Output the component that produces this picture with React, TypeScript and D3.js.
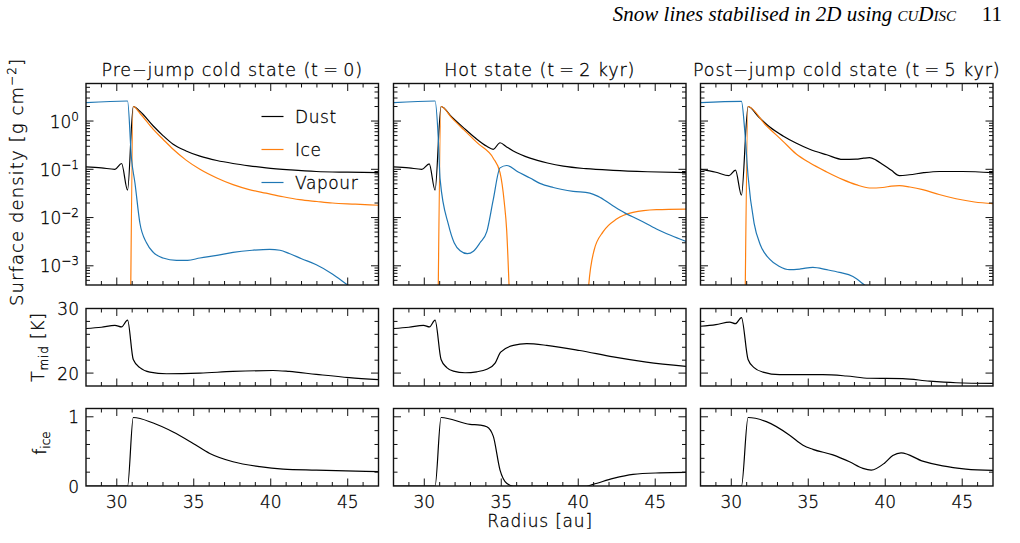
import React, { useEffect, useRef } from "react";
import * as d3 from "d3";

type Pt = [number, number];

// radius [au], surface density [g cm^-2]
const coldDust: Pt[] = [[28, 0.112], [29, 0.107], [29.88, 0.1], [30.31, 0.132], [30.7, 0.037], [31.07, 2.0], [31.5, 1.6], [32.37, 0.79], [33.0, 0.5], [33.66, 0.33], [34.5, 0.24], [35.4, 0.187], [36.5, 0.152], [37.55, 0.132], [38.6, 0.118], [39.7, 0.107], [41.3, 0.097], [42.96, 0.09], [45, 0.087], [47, 0.085]];
const coldIce: Pt[] = [[30.9, 2e-4], [31.07, 2.0], [31.5, 1.45], [32.37, 0.67], [33.0, 0.42], [33.66, 0.26], [34.5, 0.155], [35.4, 0.1], [36.5, 0.066], [37.55, 0.048], [38.6, 0.038], [39.7, 0.032], [40.8, 0.027], [41.88, 0.0235], [43, 0.0215], [44, 0.02], [45.5, 0.019], [47, 0.018]];
const coldVapour: Pt[] = [[28, 2.4], [30.7, 2.6], [30.96, 0.16], [31.18, 0.052], [31.5, 0.0077], [31.93, 0.003], [32.37, 0.0019], [33.0, 0.00145], [33.88, 0.00129], [34.6, 0.0013], [35.4, 0.00145], [36.5, 0.00165], [37.55, 0.0019], [38.8, 0.0021], [39.93, 0.0022], [40.6, 0.0021], [41.2, 0.0018], [42.0, 0.0014], [42.96, 0.00105], [44, 0.00068], [45, 0.0004], [46, 0.00024], [47, 0.00014]];

const hotDust: Pt[] = [[28, 0.112], [29, 0.107], [29.84, 0.1], [30.32, 0.13], [30.7, 0.037], [31.09, 2.0], [31.8, 1.2], [32.54, 0.73], [33.3, 0.45], [34.06, 0.3], [34.48, 0.26], [34.92, 0.355], [35.35, 0.29], [35.78, 0.24], [36.87, 0.17], [38, 0.135], [39.03, 0.116], [40.5, 0.103], [42.27, 0.095], [44.5, 0.089], [47, 0.085]];
const hotIce: Pt[] = [[30.9, 2e-4], [31.09, 2.0], [31.8, 1.15], [32.54, 0.67], [33.5, 0.34], [34.48, 0.17], [34.92, 0.085], [35.2, 0.02], [35.35, 0.0056], [35.52, 3e-4], [35.7, 1e-5], [40.4, 1e-5], [40.65, 3e-4], [41.03, 0.0021], [41.62, 0.0051], [42.49, 0.0093], [43.56, 0.0128], [45.08, 0.0146], [47, 0.015]];
const hotVapour: Pt[] = [[28, 2.4], [30.7, 2.6], [30.9, 0.5], [31.03, 0.061], [31.57, 0.0071], [31.94, 0.003], [32.33, 0.00205], [32.8, 0.00178], [33.19, 0.002], [33.62, 0.003], [34.06, 0.0051], [34.48, 0.0235], [34.92, 0.107], [35.35, 0.12], [36.1, 0.088], [36.87, 0.066], [37.51, 0.051], [38.38, 0.042], [39.67, 0.035], [40.75, 0.032], [41.29, 0.0275], [42.2, 0.018], [43.02, 0.0125], [44, 0.0088], [45.08, 0.0058], [46, 0.0043], [47, 0.0032]];

const postDust: Pt[] = [[28, 0.1], [29, 0.087], [29.85, 0.074], [30.27, 0.096], [30.66, 0.029], [31.09, 2.0], [31.8, 1.2], [32.5, 0.75], [33.36, 0.49], [34.2, 0.35], [35.09, 0.26], [36.2, 0.2], [37.25, 0.16], [38.1, 0.162], [38.6, 0.17], [38.98, 0.174], [39.4, 0.155], [39.84, 0.126], [40.4, 0.095], [40.92, 0.074], [41.57, 0.077], [42.5, 0.085], [43.52, 0.09], [45, 0.09], [47, 0.085]];
const postIce: Pt[] = [[30.9, 2e-4], [31.09, 2.0], [32.2, 0.85], [33.36, 0.38], [34.2, 0.21], [35.09, 0.136], [36.2, 0.088], [37.25, 0.061], [38.1, 0.048], [38.98, 0.041], [39.84, 0.042], [40.4, 0.045], [40.92, 0.046], [41.6, 0.043], [42.43, 0.038], [43.5, 0.03], [44.6, 0.0245], [45.8, 0.021], [47, 0.0195]];
const postVapour: Pt[] = [[28, 2.4], [30.66, 2.55], [30.88, 0.6], [31.09, 0.072], [31.48, 0.0077], [31.89, 0.0027], [32.49, 0.00138], [33.1, 0.00098], [33.79, 0.00083], [34.5, 0.00086], [35.3, 0.00093], [36.2, 0.00083], [37.03, 0.00073], [37.9, 0.0006], [38.65, 4e-4], [39.5, 2.4e-4], [41, 1e-4], [47, 1e-5]];

// midplane temperature [K]
const coldTemp: Pt[] = [[28, 26.9], [29, 27.1], [29.88, 27.4], [30.31, 27.15], [30.7, 28.2], [31.07, 22.1], [31.5, 20.85], [32.15, 20.15], [33.23, 19.9], [35.4, 20.0], [37.55, 20.25], [40.15, 20.4], [41.2, 20.25], [42.96, 19.8], [45.1, 19.3], [47, 19.0]];
const hotTemp: Pt[] = [[28, 26.9], [29, 27.1], [29.95, 27.4], [30.34, 27.15], [30.7, 28.2], [31.09, 22.1], [31.46, 20.85], [31.89, 20.3], [32.65, 20.05], [33.4, 20.2], [34.06, 20.6], [34.6, 21.55], [34.96, 23.25], [35.78, 24.3], [36.65, 24.55], [37.95, 24.3], [40.1, 23.5], [42.27, 22.5], [44.43, 21.7], [47, 21.05]];
const postTemp: Pt[] = [[28, 27.25], [29, 27.5], [29.9, 27.9], [30.27, 27.65], [30.66, 28.6], [31.09, 22.1], [31.48, 20.85], [32.06, 20.15], [33.14, 19.75], [35.95, 19.75], [37.47, 19.55], [38.98, 19.2], [41.14, 19.15], [42.87, 18.75], [44.6, 18.5], [47, 18.4]];

// ice fraction
const coldFice: Pt[] = [[28, 0], [30.7, 0], [31.07, 0.99], [32.37, 0.91], [33.66, 0.78], [34.96, 0.615], [36.04, 0.47], [37.55, 0.35], [39.28, 0.28], [40.8, 0.245], [42.96, 0.23], [47, 0.207]];
const hotFice: Pt[] = [[28, 0], [30.7, 0], [31.09, 0.99], [32.97, 0.89], [33.62, 0.88], [34.06, 0.856], [34.48, 0.72], [34.92, 0.23], [35.35, 0.04], [35.78, 0], [40.54, 0], [40.97, 0.024], [42.27, 0.11], [43.56, 0.168], [45.3, 0.19], [47, 0.197]];
const postFice: Pt[] = [[28, 0], [30.66, 0], [31.09, 0.99], [32.28, 0.93], [33.79, 0.735], [34.66, 0.59], [35.3, 0.53], [36.6, 0.45], [37.68, 0.35], [38.55, 0.255], [39.09, 0.23], [39.95, 0.33], [40.49, 0.44], [41.03, 0.48], [42.43, 0.36], [43.73, 0.29], [45.24, 0.245], [47, 0.226]];

const panelTitles = ["Pre\u2212jump cold state (t\u2009=\u20090)", "Hot state (t\u2009=\u20092 kyr)", "Post\u2212jump cold state (t\u2009=\u20095 kyr)"];
const seriesNames = ["Dust", "Ice", "Vapour"];
const seriesColors = ["#000000", "#ff7f0e", "#1f77b4"];
const radiusTicks = [30, 35, 40, 45];
const densityExponents = [0, -1, -2, -3];
const tempTicks = [20, 30];
const ficeTicks = [0, 1];

const panels = [
  { title: panelTitles[0], density: [coldDust, coldIce, coldVapour], temp: coldTemp, fice: coldFice },
  { title: panelTitles[1], density: [hotDust, hotIce, hotVapour], temp: hotTemp, fice: hotFice },
  { title: panelTitles[2], density: [postDust, postIce, postVapour], temp: postTemp, fice: postFice },
];

const FONT = "'DejaVu Sans', sans-serif";
const INK = "#111";

// thin sans label, slightly stroked so the light face reads dark
const styleText = (t: d3.Selection<SVGTextElement, unknown, null, undefined>, size = 17) =>
  t.attr("font-family", FONT).attr("font-size", size).attr("font-weight", 300)
    .attr("fill", "#000").attr("stroke", "#000").attr("stroke-width", 0.3);

const App = () => {
  const ref = useRef<SVGSVGElement>(null);

  useEffect(() => {
    const svg = d3.select(ref.current);
    svg.selectAll("*").remove();

    const colX = [86, 393.5, 700.5];
    const pw = 292.5;
    const rows = [
      { top: 83.5, bottom: 285 },
      { top: 308.5, bottom: 386 },
      { top: 408.5, bottom: 486 },
    ];

    // running header
    const head = svg.append("text")
      .attr("x", 956).attr("y", 21).attr("text-anchor", "end")
      .attr("font-family", "'Liberation Serif', serif").attr("font-size", 21)
      .attr("font-style", "italic").attr("fill", "#000");
    head.append("tspan").text("Snow lines stabilised in 2D using ");
    head.append("tspan").attr("font-variant", "small-caps").text("cuDisc");
    svg.append("text")
      .attr("x", 1002).attr("y", 21).attr("text-anchor", "end")
      .attr("font-family", "'Liberation Serif', serif").attr("font-size", 21)
      .attr("fill", "#000").text("11");

    const defs = svg.append("defs");

    const drawTicks = (
      g: d3.Selection<SVGGElement, unknown, null, undefined>,
      x0: number, x1: number, y0: number, y1: number,
      xs: { p: number; major: boolean }[],
      ys: { p: number; major: boolean }[],
      majorLen: number, minorLen: number,
    ) => {
      xs.forEach((t) => {
        const l = t.major ? majorLen : minorLen;
        g.append("line").attr("x1", t.p).attr("x2", t.p).attr("y1", y1).attr("y2", y1 - l);
        g.append("line").attr("x1", t.p).attr("x2", t.p).attr("y1", y0).attr("y2", y0 + l);
      });
      ys.forEach((t) => {
        const l = t.major ? majorLen : minorLen;
        g.append("line").attr("x1", x0).attr("x2", x0 + l).attr("y1", t.p).attr("y2", t.p);
        g.append("line").attr("x1", x1).attr("x2", x1 - l).attr("y1", t.p).attr("y2", t.p);
      });
    };

    panels.forEach((panel, ci) => {
      const x0 = colX[ci];
      const x = d3.scaleLinear().domain([28, 47]).range([x0, x0 + pw]);
      const xTickList = d3.range(29, 47).map((v) => ({ p: x(v), major: v % 5 === 0 }));

      const yD = d3.scaleLog().domain([4e-4, 6]).range([rows[0].bottom, rows[0].top]);
      const yT = d3.scaleLinear().domain([18, 30]).range([rows[1].bottom, rows[1].top]);
      const yF = d3.scaleLinear().domain([0, 1.12]).range([rows[2].bottom, rows[2].top]);

      const dTicks: { p: number; major: boolean }[] = [];
      for (let k = -4; k <= 0; k++) {
        for (let m = 1; m <= 9; m++) {
          const v = m * Math.pow(10, k);
          if (v > 4e-4 && v < 6) dTicks.push({ p: yD(v), major: m === 1 });
        }
      }
      const tTicks = d3.range(20, 30, 2).map((v) => ({ p: yT(v), major: v === 20 }));
      const fTicks = d3.range(0.2, 1.01, 0.2).map((v) => ({ p: yF(v), major: Math.abs(v - 1) < 1e-6 }));

      const specs = [
        { row: rows[0], y: yD, ys: dTicks, lines: panel.density, colors: seriesColors },
        { row: rows[1], y: yT, ys: tTicks, lines: [panel.temp], colors: ["#000"] },
        { row: rows[2], y: yF, ys: fTicks, lines: [panel.fice], colors: ["#000"] },
      ];

      specs.forEach((s, ri) => {
        const clipId = `clip-${ci}-${ri}`;
        defs.append("clipPath").attr("id", clipId)
          .append("rect").attr("x", x0).attr("y", s.row.top)
          .attr("width", pw).attr("height", s.row.bottom - s.row.top);

        const line = d3.line<Pt>()
          .x((d) => x(d[0]))
          .y((d) => (s.y as any)(d[1]))
          .curve(d3.curveMonotoneX);

        const lg = svg.append("g").attr("clip-path", `url(#${clipId})`);
        s.lines.forEach((data, i) => {
          lg.append("path").datum(data).attr("d", line)
            .attr("fill", "none").attr("stroke", s.colors[i])
            .attr("stroke-width", 1.2).attr("stroke-linejoin", "round");
        });

        const tg = svg.append("g").attr("stroke", INK).attr("stroke-width", 1);
        drawTicks(tg, x0, x0 + pw, s.row.top, s.row.bottom, xTickList, s.ys, 7.5, 4);

        svg.append("rect")
          .attr("x", x0).attr("y", s.row.top)
          .attr("width", pw).attr("height", s.row.bottom - s.row.top)
          .attr("fill", "none").attr("stroke", INK).attr("stroke-width", 1.4);
      });

      // panel title
      styleText(svg.append("text"), 17.5)
        .attr("x", x0 + pw / 2).attr("y", 76).attr("text-anchor", "middle")
        .attr("letter-spacing", 0.9)
        .text(panel.title);

      // radius labels
      radiusTicks.forEach((v) => {
        styleText(svg.append("text"))
          .attr("x", x(v)).attr("y", 508).attr("text-anchor", "middle").text(v);
      });

      if (ci === 0) {
        densityExponents.forEach((e) => {
          const t = styleText(svg.append("text"))
            .attr("x", 79).attr("y", yD(Math.pow(10, e)) + 6.5).attr("text-anchor", "end");
          t.append("tspan").text("10");
          t.append("tspan").attr("dy", -7).attr("font-size", 12).text(e === 0 ? "0" : `\u2212${-e}`);
        });
        tempTicks.forEach((v) => {
          styleText(svg.append("text"))
            .attr("x", 79).attr("y", yT(v) + 6.5).attr("text-anchor", "end").text(v);
        });
        ficeTicks.forEach((v) => {
          styleText(svg.append("text"))
            .attr("x", 79).attr("y", yF(v) + 6.5).attr("text-anchor", "end").text(v);
        });

        // legend
        seriesNames.forEach((name, i) => {
          const ly = 116.5 + i * 33;
          svg.append("line")
            .attr("x1", 261.5).attr("x2", 283.5).attr("y1", ly).attr("y2", ly)
            .attr("stroke", seriesColors[i]).attr("stroke-width", 1.2);
          styleText(svg.append("text"))
            .attr("x", 295).attr("y", ly + 6.5)
            .attr("letter-spacing", 0.6).text(name);
        });
      }
    });

    // axis titles
    const sd = styleText(svg.append("text"), 18)
      .attr("transform", "translate(23,182) rotate(-90)").attr("text-anchor", "middle")
      .attr("letter-spacing", 1.1);
    sd.append("tspan").text("Surface density [g cm");
    sd.append("tspan").attr("dy", -7).attr("font-size", 12).text("\u22122");
    sd.append("tspan").attr("dy", 7).text("]");

    const tm = styleText(svg.append("text"))
      .attr("transform", "translate(44,347) rotate(-90)").attr("text-anchor", "middle")
      .attr("letter-spacing", 0.8);
    tm.append("tspan").text("T");
    tm.append("tspan").attr("dy", 4).attr("font-size", 12).text("mid");
    tm.append("tspan").attr("dy", -4).text(" [K]");

    const fi = styleText(svg.append("text"))
      .attr("transform", "translate(46,443) rotate(-90)").attr("text-anchor", "middle");
    fi.append("tspan").text("f");
    fi.append("tspan").attr("dy", 4).attr("font-size", 12).text("ice");

    styleText(svg.append("text"))
      .attr("x", 540).attr("y", 527).attr("text-anchor", "middle")
      .attr("letter-spacing", 0.8).text("Radius [au]");
  }, []);

  return (
    <div style={{ position: "fixed", left: 0, top: 0, width: 1020, height: 543, background: "#fff" }}>
      <svg ref={ref} width={1020} height={543} style={{ display: "block" }} />
    </div>
  );
};

export default App;
